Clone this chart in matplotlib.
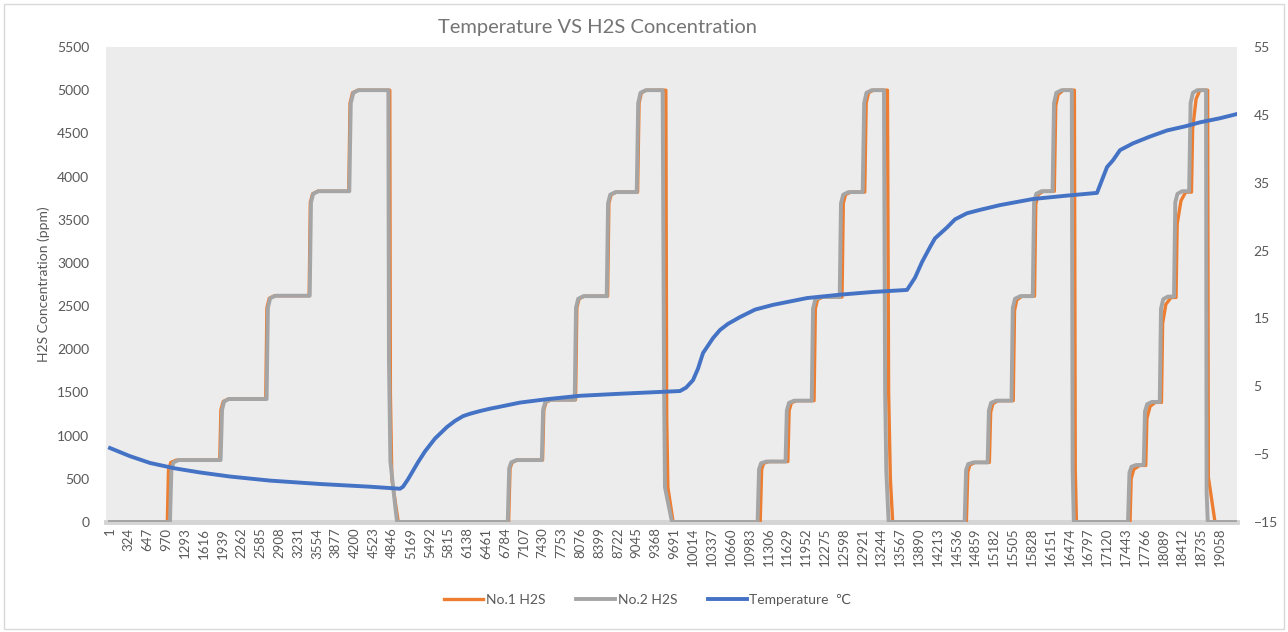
import numpy as np
import matplotlib
matplotlib.use("Agg")
import matplotlib.pyplot as plt
from matplotlib.patches import Rectangle

# Temperature VS H2S Concentration (Excel-style combo line chart)

n_rows = 19340
tick_labels = list(range(1, 19059, 323))

# No.2 H2S sensor, ppm (breakpoints, by row index)
no2_x = [1, 1030, 1055, 1090, 1180, 1900, 1925, 1960, 2040, 2690, 2712, 2750, 2840,
         3430, 3452, 3490, 3580, 4110, 4135, 4180, 4270, 4780, 4790, 4815, 4900, 4930,
         6830, 6855, 6890, 6980, 7415, 7437, 7475, 7565, 7980, 8002, 8040, 8130,
         8530, 8552, 8590, 8680, 9045, 9070, 9110, 9200, 9490, 9515, 9530, 9650,
         11120, 11145, 11180, 11270, 11600, 11622, 11660, 11750, 12050, 12072, 12110, 12200,
         12530, 12552, 12590, 12680, 12925, 12950, 12990, 13080, 13290, 13310, 13330, 13370,
         14675, 14700, 14735, 14825, 15070, 15092, 15130, 15220, 15480, 15502, 15540, 15630,
         15845, 15867, 15905, 15995, 16185, 16210, 16250, 16340, 16515, 16530, 16550,
         17480, 17505, 17540, 17620, 17750, 17772, 17810, 17890, 18025, 18047, 18085, 18165,
         18270, 18292, 18330, 18410, 18530, 18555, 18595, 18670, 18820, 18830, 18850, 19340]
no2_y = [0, 0, 600, 690, 717, 717, 1300, 1395, 1424, 1424, 2480, 2590, 2620,
         2620, 3700, 3800, 3830, 3830, 4850, 4970, 5000, 5000, 1900, 700, 170, 0,
         0, 620, 690, 717, 717, 1300, 1390, 1415, 1415, 2480, 2585, 2615,
         2615, 3690, 3790, 3820, 3820, 4850, 4970, 5000, 5000, 1500, 400, 0,
         0, 610, 680, 700, 700, 1290, 1380, 1405, 1405, 2470, 2575, 2605,
         2605, 3690, 3790, 3820, 3820, 4850, 4970, 5000, 5000, 1500, 600, 0,
         0, 600, 670, 690, 690, 1290, 1380, 1405, 1405, 2480, 2585, 2615,
         2615, 3700, 3800, 3830, 3830, 4850, 4970, 5000, 5000, 600, 0,
         0, 570, 640, 660, 660, 1280, 1365, 1390, 1390, 2470, 2580, 2610,
         2610, 3700, 3800, 3830, 3830, 4850, 4970, 5000, 5000, 350, 0, 0]

# No.1 H2S sensor, ppm
no1_x = [1, 985, 1005, 1045, 1140, 1885, 1905, 1945, 2030, 2675, 2695, 2735, 2825,
         3420, 3440, 3480, 3570, 4100, 4122, 4165, 4255, 4805, 4815, 4840, 4950,
         6845, 6870, 6905, 6995, 7428, 7450, 7490, 7580, 7995, 8017, 8055, 8145,
         8545, 8567, 8605, 8695, 9060, 9085, 9125, 9215, 9545, 9560, 9580, 9670,
         11165, 11190, 11225, 11315, 11640, 11662, 11700, 11790, 12090, 12112, 12150, 12240,
         12570, 12592, 12630, 12720, 12960, 12985, 13025, 13110, 13350, 13370, 13400, 13440,
         14705, 14730, 14765, 14855, 15100, 15122, 15160, 15250, 15510, 15532, 15570, 15660,
         15875, 15897, 15935, 16025, 16215, 16240, 16280, 16370, 16560, 16575, 16595,
         17515, 17535, 17580, 17680, 17785, 17805, 17860, 17950, 18055, 18075, 18130, 18220,
         18305, 18325, 18390, 18470, 18570, 18590, 18650, 18716, 18848, 18860, 18974, 19340]
no1_y = [0, 0, 600, 690, 717, 717, 1300, 1395, 1424, 1424, 2480, 2590, 2620,
         2620, 3700, 3800, 3830, 3830, 4850, 4970, 5000, 5000, 1500, 500, 0,
         0, 620, 690, 717, 717, 1300, 1390, 1415, 1415, 2480, 2585, 2615,
         2615, 3690, 3790, 3820, 3820, 4850, 4970, 5000, 5000, 1200, 400, 0,
         0, 610, 680, 700, 700, 1290, 1380, 1405, 1405, 2470, 2575, 2605,
         2605, 3690, 3790, 3820, 3820, 4850, 4970, 5000, 5000, 1500, 500, 0,
         0, 580, 660, 690, 690, 1270, 1370, 1405, 1405, 2450, 2570, 2615,
         2615, 3680, 3790, 3830, 3830, 4820, 4950, 5000, 5000, 600, 0,
         0, 500, 610, 655, 655, 1200, 1340, 1385, 1385, 2300, 2520, 2600,
         2600, 3450, 3720, 3820, 3820, 4550, 4900, 5000, 5000, 520, 0, 0]

# Temperature, deg C (right axis)
temp_x = [1, 344, 688, 1117, 1546, 2061, 2748, 3607, 4465, 4980, 5032, 5118, 5289, 5409,
          5581, 5787, 5925, 6062, 6182, 6354, 6525, 6646, 7041, 7504, 7728, 8071, 8758,
          9788, 9892, 10011, 10097, 10183, 10269, 10355, 10475, 10612, 10818, 11076,
          11385, 11677, 11968, 12192, 12535, 13102, 13686, 13823, 13943, 14080, 14166,
          14372, 14510, 14716, 14940, 15282, 15849, 16433, 16948, 17120, 17222, 17343,
          17566, 17857, 18150, 18458, 18717, 19059, 19340]
temp_y = [-4.1, -5.3, -6.3, -7.1, -7.7, -8.3, -8.9, -9.4, -9.8, -10.1, -9.8, -8.7, -6.2, -4.6,
          -2.7, -1.0, -0.1, 0.6, 0.95, 1.35, 1.7, 1.9, 2.6, 3.1, 3.3, 3.6, 3.9,
          4.3, 4.8, 5.9, 7.6, 9.9, 11.0, 12.1, 13.3, 14.2, 15.2, 16.3,
          17.0, 17.5, 18.0, 18.2, 18.5, 18.9, 19.2, 21.0, 23.3, 25.5, 26.8,
          28.4, 29.6, 30.5, 31.0, 31.7, 32.6, 33.1, 33.5, 37.3, 38.3, 39.8,
          40.8, 41.8, 42.7, 43.3, 43.9, 44.5, 45.1]

txt = "#595959"
plt.rcParams["font.family"] = ["Lato", "DejaVu Sans"]

fig = plt.figure(figsize=(12.88, 6.32), dpi=100)
ax = fig.add_axes([106 / 1288, 1 - 522 / 632, (1237 - 106) / 1288, (522 - 47) / 632])
ax.set_facecolor("#ECECEC")

ax.plot(no1_x, no1_y, color="#ED7D31", lw=2.4, label="No.1 H2S", zorder=2)
ax.plot(no2_x, no2_y, color="#A5A5A5", lw=2.8, label="No.2 H2S", zorder=3)

ax.set_xlim(-68, n_rows + 12)
ax.set_ylim(0, 5500)
ax.set_yticks(np.arange(0, 5501, 500))
ax.set_xticks(tick_labels)
ax.set_xticklabels([str(t) for t in tick_labels], rotation=90, fontsize=9.5, color=txt)
ax.tick_params(axis="y", length=0, labelsize=10, labelcolor=txt, pad=12)
ax.tick_params(axis="x", length=0, pad=4)
ax.set_ylabel("H2S Concentration (ppm)", fontsize=10, color=txt, labelpad=5)
for s in ["top", "right", "left"]:
    ax.spines[s].set_visible(False)
ax.spines["bottom"].set_color("#D4D4D4")
ax.spines["bottom"].set_linewidth(3.5)
ax.spines["bottom"].set_zorder(1)

ax2 = ax.twinx()
ax2.plot(temp_x, temp_y, color="#4472C4", lw=2.8, label="Temperature  \u2103", zorder=4)
ax2.set_ylim(-15, 55)
ax2.set_yticks(np.arange(-15, 56, 10))
ax2.tick_params(axis="y", length=0, labelsize=10, labelcolor=txt, pad=12)
for s in ax2.spines.values():
    s.set_visible(False)

fig.text(598 / 1288, 1 - 28 / 632, "Temperature VS H2S Concentration",
         ha="center", va="center", fontsize=14.5, color="#757575")

h1, l1 = ax.get_legend_handles_labels()
h2, l2 = ax2.get_legend_handles_labels()
fig.legend(h1 + h2, l1 + l2, loc="center", bbox_to_anchor=(648 / 1288, 1 - 600 / 632),
           ncol=3, frameon=False, fontsize=10, labelcolor=txt, handlelength=2.8,
           columnspacing=2.2, handletextpad=0.2)

fig.patches.append(Rectangle((0.003, 0.004), 0.994, 0.99, transform=fig.transFigure,
                             fill=False, edgecolor="#D9D9D9", lw=1))

fig.savefig("out.png", dpi=100)
